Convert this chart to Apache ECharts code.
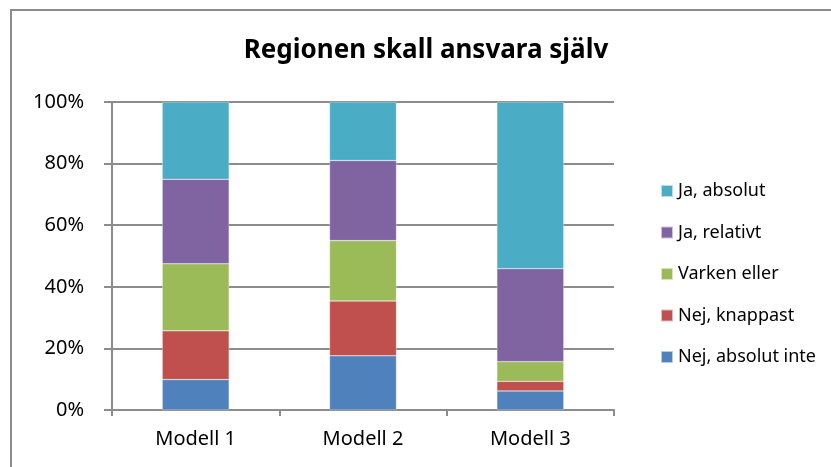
<!DOCTYPE html>
<html>
<head>
<meta charset="utf-8">
<script src="https://cdn.jsdelivr.net/npm/echarts@6/dist/echarts.min.js"></script>
<style>
    html, body { margin: 0; padding: 0; background: #fff; }
    #frame { position: absolute; left: 10px; top: 9px; width: 840px; height: 480px; border-left: 2px solid #8c8c8c; border-top: 2px solid #8c8c8c; }
    #chart { position: absolute; left: 0; top: 0; width: 831px; height: 467px; }
</style>
</head>
<body>
<div id="frame"></div>
<div id="chart"></div>
<script>
const categories = ['Modell 1', 'Modell 2', 'Modell 3'];
const yTicks = [0, 20, 40, 60, 80, 100];

// andel i procent, nedifrån och upp
const nejAbsolutInte = [9.9, 17.6, 6.2];
const nejKnappast = [15.8, 17.8, 3.1];
const varkenEller = [21.8, 19.6, 6.4];
const jaRelativt = [27.4, 26.0, 30.2];
const jaAbsolut = [25.1, 19.0, 54.1];

const seriesNames = ['Nej, absolut inte', 'Nej, knappast', 'Varken eller', 'Ja, relativt', 'Ja, absolut'];
const seriesData = [nejAbsolutInte, nejKnappast, varkenEller, jaRelativt, jaAbsolut];
const colors = ['#4F81BD', '#C0504D', '#9BBB59', '#8064A2', '#4BACC6'];

const font = '"Noto Sans", "Open Sans", sans-serif';

const chart = echarts.init(document.getElementById('chart'));
const option = {
    color: colors,
    animation: false,
    title: {
        text: 'Regionen skall ansvara själv',
        left: 421,
        top: 33,
        textAlign: 'center',
        textStyle: {
            fontFamily: font,
            fontWeight: 'bold',
            fontSize: 26,
            color: '#000'
        }
    },
    legend: {
        orient: 'vertical',
        left: 655,
        top: 176,
        itemWidth: 12,
        itemHeight: 12,
        itemGap: 21.5,
        icon: 'rect',
        data: seriesNames.slice().reverse(),
        textStyle: {
            fontFamily: font,
            fontSize: 18,
            lineHeight: 20,
            color: '#000'
        }
    },
    grid: {
        left: 112,
        right: 217,
        top: 102,
        bottom: 57
    },
    xAxis: {
        type: 'category',
        data: categories,
        axisLine: { lineStyle: { color: '#8c8c8c', width: 2 } },
        axisTick: { show: true, length: 6, lineStyle: { color: '#8c8c8c', width: 2 } },
        axisLabel: {
            fontFamily: font,
            fontSize: 20,
            color: '#000',
            margin: 19
        }
    },
    yAxis: {
        type: 'value',
        min: 0,
        max: 100,
        interval: 20,
        axisLine: { show: true, lineStyle: { color: '#8c8c8c', width: 2 } },
        axisTick: { show: true, inside: false, length: 8, lineStyle: { color: '#8c8c8c', width: 2 } },
        splitLine: { lineStyle: { color: '#8c8c8c', width: 2 } },
        axisLabel: {
            fontFamily: font,
            fontSize: 20,
            color: '#000',
            margin: 28,
            formatter: v => yTicks.includes(v) ? v + '%' : ''
        }
    },
    series: seriesNames.map((name, i) => ({
        name: name,
        type: 'bar',
        stack: 'total',
        barWidth: '40%',
        data: seriesData[i],
        itemStyle: { borderColor: 'rgba(255,255,255,0.6)', borderWidth: 0.5 }
    }))
};
chart.setOption(option);
</script>
</body>
</html>
